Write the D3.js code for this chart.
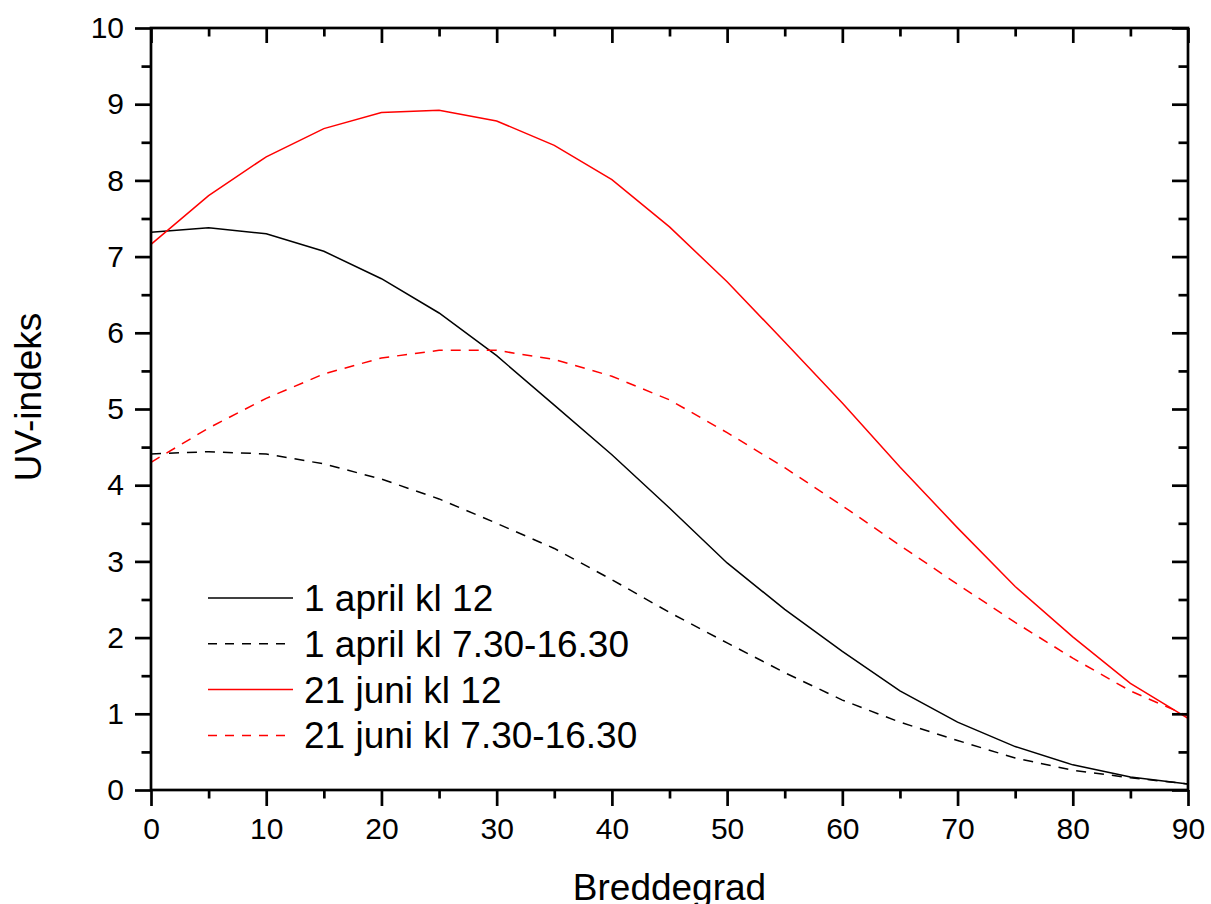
<!DOCTYPE html>
<html>
<head>
<meta charset="utf-8">
<script src="https://cdn.jsdelivr.net/npm/d3@7"></script>
<style>
  html, body { margin: 0; padding: 0; background: #fff; }
  svg { display: block; }
  text { font-family: "Liberation Sans", Arial, sans-serif; fill: #000; }
</style>
</head>
<body>
<svg id="chart" width="1211" height="904"></svg>
<script>
// Latitude (degrees north)
const latitudes = [0, 5, 10, 15, 20, 25, 30, 35, 40, 45, 50, 55, 60, 65, 70, 75, 80, 85, 90];

// UV index per latitude
const aprilNoon  = [7.32, 7.38, 7.30, 7.07, 6.71, 6.26, 5.70, 5.05, 4.40, 3.70, 2.98, 2.37, 1.82, 1.30, 0.89, 0.57, 0.33, 0.17, 0.08];
const aprilDay   = [4.41, 4.44, 4.41, 4.28, 4.08, 3.82, 3.50, 3.17, 2.76, 2.33, 1.93, 1.54, 1.18, 0.89, 0.65, 0.42, 0.26, 0.16, 0.08];
const juneNoon   = [7.16, 7.80, 8.31, 8.68, 8.89, 8.92, 8.78, 8.46, 8.01, 7.39, 6.67, 5.88, 5.08, 4.24, 3.44, 2.67, 2.01, 1.40, 0.94];
const juneDay    = [4.30, 4.75, 5.14, 5.46, 5.67, 5.77, 5.77, 5.65, 5.43, 5.12, 4.69, 4.23, 3.73, 3.21, 2.70, 2.20, 1.73, 1.30, 0.97];

const seriesNames = ["1 april kl 12", "1 april kl 7.30-16.30", "21 juni kl 12", "21 juni kl 7.30-16.30"];
const seriesColors = ["#000000", "#000000", "#ff0000", "#ff0000"];
const seriesDashed = [false, true, false, true];
const seriesValues = [aprilNoon, aprilDay, juneNoon, juneDay];

const xMajorTicks = [0, 10, 20, 30, 40, 50, 60, 70, 80, 90];
const xMinorTicks = [5, 15, 25, 35, 45, 55, 65, 75, 85];
const yMajorTicks = [0, 1, 2, 3, 4, 5, 6, 7, 8, 9, 10];
const yMinorTicks = [0.5, 1.5, 2.5, 3.5, 4.5, 5.5, 6.5, 7.5, 8.5, 9.5];

const xTitle = "Breddegrad";
const yTitle = "UV-indeks";

const svg = d3.select("#chart");
const plotLeft = 151, plotRight = 1188, plotTop = 28, plotBottom = 790;

const x = d3.scaleLinear().domain([0, 90]).range([plotLeft, plotRight]);
const y = d3.scaleLinear().domain([0, 10]).range([plotBottom, plotTop]);

const AXIS_W = 2.7;
const MAJOR = 16, MINOR = 8.5;

function styleAxis(g) {
  g.select(".domain").remove();
  g.selectAll(".tick line").attr("stroke", "#000").attr("stroke-width", AXIS_W);
  g.selectAll(".tick text").style("font-size", "30px").attr("fill", "#000");
}

// Curves
const line = d3.line()
  .x((d, i) => x(latitudes[i]))
  .y(d => y(d));

const curves = svg.append("g");
seriesValues.forEach((vals, k) => {
  curves.append("path")
    .datum(vals)
    .attr("d", line)
    .attr("fill", "none")
    .attr("stroke", seriesColors[k])
    .attr("stroke-width", 1.5)
    .attr("stroke-dasharray", seriesDashed[k] ? "10,8" : null);
});

// Bottom axis (outward ticks, labelled)
svg.append("g").attr("transform", `translate(0,${plotBottom})`)
  .call(d3.axisBottom(x).tickValues(xMajorTicks).tickSize(MAJOR).tickPadding(12).tickFormat(d3.format("d")))
  .call(styleAxis);
svg.append("g").attr("transform", `translate(0,${plotBottom})`)
  .call(d3.axisBottom(x).tickValues(xMinorTicks).tickSize(MINOR).tickFormat(""))
  .call(styleAxis);

// Top axis (inward ticks)
svg.append("g").attr("transform", `translate(0,${plotTop})`)
  .call(d3.axisBottom(x).tickValues(xMajorTicks).tickSize(MAJOR - 1).tickFormat(""))
  .call(styleAxis);
svg.append("g").attr("transform", `translate(0,${plotTop})`)
  .call(d3.axisBottom(x).tickValues(xMinorTicks).tickSize(MINOR).tickFormat(""))
  .call(styleAxis);

// Left axis (outward ticks, labelled)
svg.append("g").attr("transform", `translate(${plotLeft},0)`)
  .call(d3.axisLeft(y).tickValues(yMajorTicks).tickSize(MAJOR).tickPadding(11).tickFormat(d3.format("d")))
  .call(styleAxis);
svg.append("g").attr("transform", `translate(${plotLeft},0)`)
  .call(d3.axisLeft(y).tickValues(yMinorTicks).tickSize(MINOR + 1).tickFormat(""))
  .call(styleAxis);

// Right axis (inward ticks)
svg.append("g").attr("transform", `translate(${plotRight},0)`)
  .call(d3.axisLeft(y).tickValues(yMajorTicks).tickSize(MAJOR).tickFormat(""))
  .call(styleAxis);
svg.append("g").attr("transform", `translate(${plotRight},0)`)
  .call(d3.axisLeft(y).tickValues(yMinorTicks).tickSize(MINOR + 1).tickFormat(""))
  .call(styleAxis);

// Frame
svg.append("rect")
  .attr("x", plotLeft).attr("y", plotTop)
  .attr("width", plotRight - plotLeft).attr("height", plotBottom - plotTop)
  .attr("fill", "none").attr("stroke", "#000").attr("stroke-width", AXIS_W);

// Axis titles
svg.append("text")
  .attr("x", (plotLeft + plotRight) / 2).attr("y", 900)
  .attr("text-anchor", "middle")
  .style("font-size", "37px")
  .text(xTitle);

svg.append("text")
  .attr("transform", "translate(41,397) rotate(-90)")
  .attr("text-anchor", "middle")
  .style("font-size", "37px")
  .text(yTitle);

// Legend
const legend = svg.append("g");
const legendY0 = 598, legendStep = 45.8;
seriesNames.forEach((name, k) => {
  const ly = legendY0 + k * legendStep;
  legend.append("line")
    .attr("x1", 208).attr("x2", 293)
    .attr("y1", ly).attr("y2", ly)
    .attr("stroke", seriesColors[k])
    .attr("stroke-width", 1.5)
    .attr("stroke-dasharray", seriesDashed[k] ? "9,8" : null);
  legend.append("text")
    .attr("x", 304).attr("y", ly + 13)
    .style("font-size", "37px")
    .text(name);
});
</script>
</body>
</html>
